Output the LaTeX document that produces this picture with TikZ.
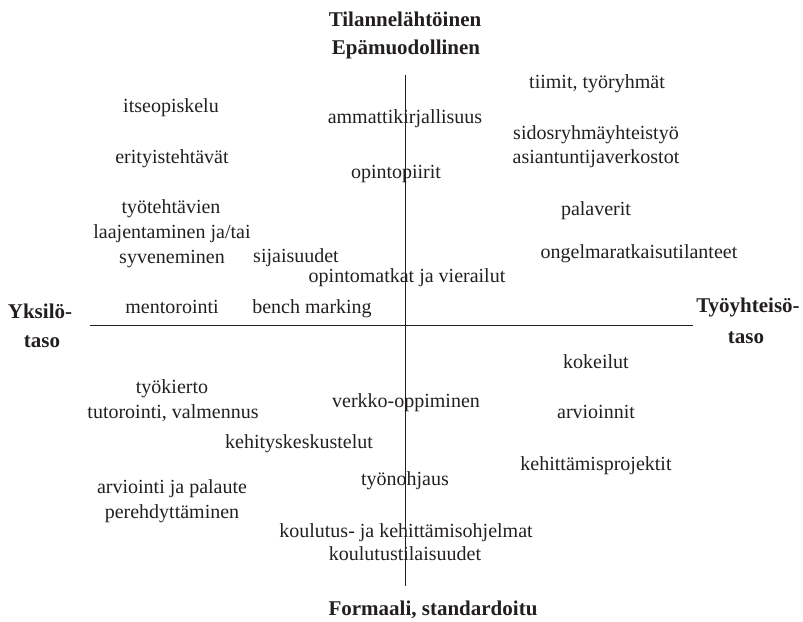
\documentclass[tikz,border=0pt]{standalone}
\usepackage{fontspec}
\setmainfont{Liberation Serif}
\definecolor{ink}{HTML}{231F20}
\begin{document}
\begin{tikzpicture}[x=1pt,y=-1pt,
  lbl/.style={anchor=base,inner sep=0pt,text=ink,font=\fontsize{20}{24}\selectfont},
  ttl/.style={anchor=base,inner sep=0pt,text=ink,font=\fontsize{21}{25}\selectfont\bfseries},
  axis/.style={draw=ink,line width=0.8pt}]
\useasboundingbox (0,0) rectangle (803,621);
% axes
\coordinate (vt) at (405,75);
\coordinate (vb) at (405,586);
\coordinate (hl) at (90,325);
\coordinate (hr) at (693,325);
\draw[axis] (vt) -- (vb);
\draw[axis] (hl) -- (hr);
% titles
\node[ttl] (t1) at (405,27) {Tilannelähtöinen};
\node[ttl] (t2) at (406,54) {Epämuodollinen};
\node[ttl] (b1) at (433,615) {Formaali, standardoitu};
\node[ttl] (l1) at (40,318) {Yksilö-};
\node[ttl] (l2) at (42,347) {taso};
\node[ttl] (r1) at (748,312) {Työyhteisö-};
\node[ttl] (r2) at (746,343) {taso};
% upper left
\node[lbl] (n1) at (171,112) {itseopiskelu};
\node[lbl] (n2) at (405,123) {ammattikirjallisuus};
\node[lbl] (n3) at (172,163) {erityistehtävät};
\node[lbl] (n4) at (396,178) {opintopiirit};
\node[lbl] (n5a) at (171,213) {työtehtävien};
\node[lbl] (n5b) at (172,238) {laajentaminen ja/tai};
\node[lbl] (n5c) at (172,263) {syveneminen};
\node[lbl] (n6) at (296,262) {sijaisuudet};
\node[lbl] (n7) at (407,282) {opintomatkat ja vierailut};
\node[lbl] (n8) at (172,313) {mentorointi};
\node[lbl] (n9) at (312,313) {bench marking};
% upper right
\node[lbl] (m1) at (597,88) {tiimit, työryhmät};
\node[lbl] (m2) at (596,139) {sidosryhmäyhteistyö};
\node[lbl] (m3) at (596,163) {asiantuntijaverkostot};
\node[lbl] (m4) at (596,215) {palaverit};
\node[lbl] (m5) at (639,258) {ongelmaratkaisutilanteet};
% lower right
\node[lbl] (k1) at (596,368) {kokeilut};
\node[lbl] (k2) at (596,418) {arvioinnit};
\node[lbl] (k3) at (596,470) {kehittämisprojektit};
% lower left / centre
\node[lbl] (p1) at (172,393) {työkierto};
\node[lbl] (p2) at (173,418) {tutorointi, valmennus};
\node[lbl] (p3) at (406,407) {verkko-oppiminen};
\node[lbl] (p4) at (299,448) {kehityskeskustelut};
\node[lbl] (p5) at (405,485) {työnohjaus};
\node[lbl] (p6) at (172,493) {arviointi ja palaute};
\node[lbl] (p7) at (172,518) {perehdyttäminen};
\node[lbl] (p8) at (406,537) {koulutus- ja kehittämisohjelmat};
\node[lbl] (p9) at (405,560) {koulutustilaisuudet};
\end{tikzpicture}
\end{document}
